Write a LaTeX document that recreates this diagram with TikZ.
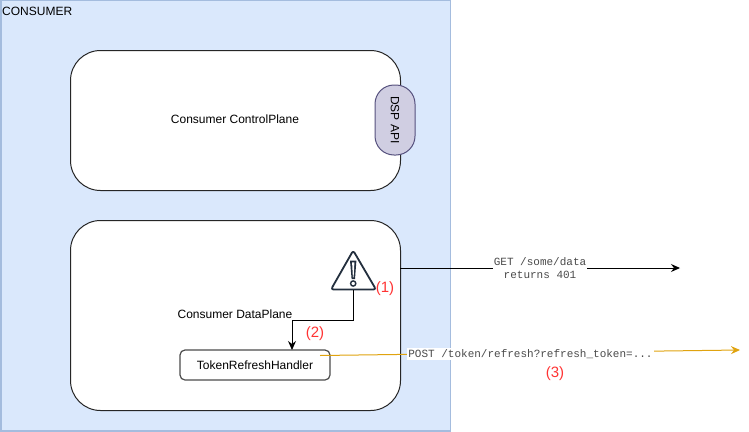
\documentclass[tikz,border=0pt]{standalone}
\usepackage{fontspec}
\setmainfont{Liberation Sans}
\setmonofont{Liberation Mono}
\usetikzlibrary{arrows.meta}
\definecolor{blueFill}{HTML}{DAE8FC}
\definecolor{blueLine}{HTML}{A4BCDE}
\definecolor{purpFill}{HTML}{D0CEE2}
\definecolor{purpLine}{HTML}{56517E}
\definecolor{gold}{HTML}{E0A30F}
\definecolor{iconDark}{HTML}{232F3E}
\definecolor{redTxt}{HTML}{FF3333}
\definecolor{monoTxt}{HTML}{4A4A4A}
\tikzset{
  x=1pt,y=-1pt,
  panel/.style={draw=black!85,fill=white,line width=1pt,rounded corners=30pt,inner sep=0pt,anchor=north west},
  sans/.style={font=\fontsize{12}{14}\selectfont,text=black,inner sep=0pt},
  redlabel/.style={font=\fontsize{15}{17}\selectfont,text=redTxt,inner sep=0pt},
  monolabel/.style={font=\ttfamily\fontsize{11}{13}\selectfont,text=monoTxt,align=center,fill=white,inner sep=1pt},
  flow/.style={draw=black,line width=1pt,-{Stealth[length=9pt,width=8pt,inset=3pt]}},
  goldflow/.style={draw=gold,line width=1pt,-{Stealth[length=9pt,width=8pt,inset=3pt]}},
}
\begin{document}
\begin{tikzpicture}
\useasboundingbox (0,0) rectangle (749,431);
% Consumer container
\node[draw=blueLine,fill=blueFill,line width=1.5pt,minimum width=449.5pt,minimum height=431pt,inner sep=0pt,anchor=north west] (consumer) at (0,-1) {};
\node[sans,anchor=west] (consumerlabel) at (2,11) {CONSUMER};
% Panels
\node[panel,minimum width=330pt,minimum height=140pt] (control) at (70,50) {};
\node[sans] (controllabel) at (235,119) {Consumer ControlPlane};
\node[panel,minimum width=330pt,minimum height=190pt] (data) at (70,220) {};
\node[sans] (datalabel) at (235,314) {Consumer DataPlane};
% DSP API
\node[draw=purpLine,fill=purpFill,line width=1pt,rounded corners=19pt,minimum width=40pt,minimum height=70pt,inner sep=0pt] (dsp) at (395,120) {};
\node[sans,rotate=-90] (dsplabel) at (395,120) {DSP API};
% Handler
\node[draw=black!70,fill=white,line width=1.2pt,rounded corners=5pt,minimum width=150pt,minimum height=30pt,inner sep=0pt,sans,text=black] (handler) at (255,365) {TokenRefreshHandler};
% Warning icon
\coordinate (warnbase) at (353,290);
\coordinate (warnin) at (292,350);
\coordinate (getstart) at (400,268);
\coordinate (getend) at (680,268);
\coordinate (poststart) at (320,355.5);
\coordinate (postend) at (740,350);
\draw[draw=iconDark,line width=1.8pt,line join=round,rounded corners=2.5pt,fill=white] (353.2,250.5) -- (376,289.5) -- (331,289.5) -- cycle;
\fill[iconDark] (350,260.5) -- (356.4,260.5) -- (355,279) -- (351.6,279) -- cycle;
\fill[white] (352.1,262.4) -- (354.4,262.4) -- (353.6,277.4) -- (352.9,277.4) -- cycle;
\draw[iconDark,line width=1.4pt] (353.2,283.5) circle (2.6);
% Connectors
\draw[flow,rounded corners=0pt] (warnbase) -- (353,320) -- (292,320) -- (warnin);
\draw[goldflow] (poststart) -- (postend);
\node[monolabel] (postlabel) at (530.5,354) {POST /token/refresh?refresh\_token=...};
\draw[flow] (getstart) -- (getend);
\node[monolabel] (getlabel) at (540,268.5) {GET /some/data\\returns 401};
% Red labels
\node[redlabel] (l1) at (385,289) {(1)};
\node[redlabel] (l2) at (315,334) {(2)};
\node[redlabel] (l3) at (555,374) {(3)};
\end{tikzpicture}
\end{document}
